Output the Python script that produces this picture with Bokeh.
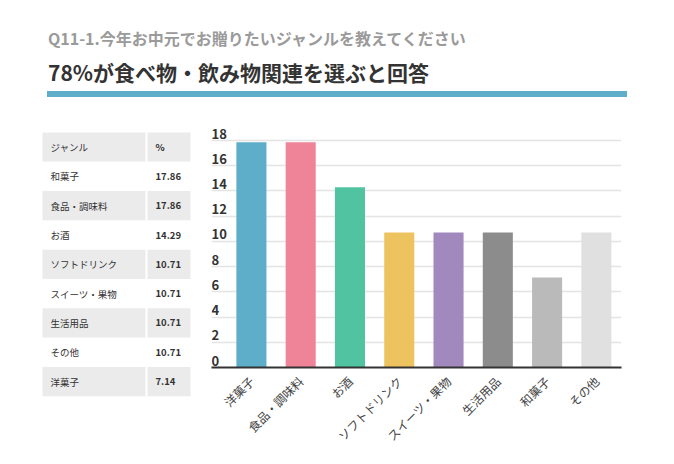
from bokeh.plotting import figure
from bokeh.models import Div, Range1d, FixedTicker, ColumnDataSource
from bokeh.layouts import column, row
from bokeh.core.properties import value
from bokeh.embed import file_html
from bokeh.resources import INLINE
import math

FONT = "Noto Sans CJK JP"
subtitle = "Q11-1.今年お中元でお贈りたいジャンルを教えてください"
heading = "78%が食べ物・飲み物関連を選ぶと回答"

table_head = ["ジャンル", "%"]
table_genres = ["和菓子", "食品・調味料", "お酒", "ソフトドリンク", "スイーツ・果物", "生活用品", "その他", "洋菓子"]
table_values = ["17.86", "17.86", "14.29", "10.71", "10.71", "10.71", "10.71", "7.14"]

categories = ["洋菓子", "食品・調味料", "お酒", "ソフトドリンク", "スイーツ・果物", "生活用品", "和菓子", "その他"]
values = [17.86, 17.86, 14.29, 10.71, 10.71, 10.71, 7.14, 10.71]
colors = ["#5eadc9", "#ef8397", "#52c3a1", "#ecc35e", "#a188bd", "#8c8c8c", "#bbbabb", "#e0e0e0"]
y_ticks = [0, 2, 4, 6, 8, 10, 12, 14, 16, 18]

header = Div(width=658, height=102, text=f"""
<div style="position:relative;width:658px;height:102px;font-family:'{FONT}';">
<div style="position:absolute;left:43px;top:22px;font-size:16px;font-weight:bold;color:#9a9a9a;white-space:nowrap;">{subtitle}</div>
<div style="position:absolute;left:43px;top:52px;font-size:21px;font-weight:bold;color:#333;white-space:nowrap;">{heading}</div>
<div style="position:absolute;left:42px;top:86px;width:580px;height:6px;background:#5eadc9;"></div>
</div>""")

# table
rows_lbl = [table_head[0]] + table_genres
rows_val = [table_head[1]] + table_values
n = len(rows_lbl)
idx = list(range(n))
t = figure(frame_width=211, frame_height=345, output_backend="svg", toolbar_location=None,
           x_range=Range1d(0, 211), y_range=Range1d(11.43, -0.34),
           min_border=0, outline_line_color=None)
t.axis.visible = False
t.grid.visible = False
fills = ["#ebebeb" if i % 2 == 0 else "#ffffff" for i in idx]
src = ColumnDataSource(dict(top=idx, bottom=[i + 1 for i in idx], fill=fills,
                            lbl=rows_lbl, val=rows_val, mid=[i + 0.5 for i in idx]))
t.quad(left=42, right=145, top="top", bottom="bottom", fill_color="fill", line_color=None, source=src)
t.quad(left=147, right=190, top="top", bottom="bottom", fill_color="fill", line_color=None, source=src)
t.text(x=50, y="mid", text="lbl", source=src, text_font=value(FONT), text_font_size="9.5px",
       text_color="#333", text_baseline="middle")
t.text(x=155, y="mid", text="val", source=src, text_font=value(FONT), text_font_size="9.5px",
       text_color="#333", text_baseline="middle", text_font_style="bold")

# chart
xs = list(range(len(categories)))
p = figure(frame_width=410, frame_height=245, output_backend="svg", toolbar_location=None,
           x_range=Range1d(-0.81, 7.51), y_range=Range1d(0, 19.43),
           min_border_left=0, min_border_right=37, min_border_top=10, min_border_bottom=90,
           outline_line_color=None)
p.vbar(x=xs, top=values, width=0.61, fill_color=colors, line_color=None)
p.yaxis.visible = False
p.ygrid.ticker = FixedTicker(ticks=y_ticks)
p.ygrid.grid_line_color = "#e4e4e4"
p.ygrid.grid_line_width = 1.5
p.xgrid.visible = False
p.text(x=-0.81, y=y_ticks, text=[str(v) for v in y_ticks], text_font=value(FONT),
       text_font_size="13px", text_font_style="bold", text_color="#333",
       text_baseline="bottom", y_offset=-2)
p.xaxis.ticker = FixedTicker(ticks=xs)
p.xaxis.major_label_overrides = {i: c for i, c in enumerate(categories)}
p.xaxis.major_label_orientation = math.pi / 4
p.xaxis.major_label_text_font = FONT
p.xaxis.major_label_text_font_size = "12px"
p.xaxis.major_label_text_color = "#444"
p.xaxis.axis_line_color = "#333"
p.xaxis.axis_line_width = 2
p.xaxis.major_tick_line_color = None
p.xaxis.minor_tick_line_color = None

layout = column(header, row(t, p, spacing=0), spacing=0)
open("out.html", "w").write(file_html(layout, INLINE))
